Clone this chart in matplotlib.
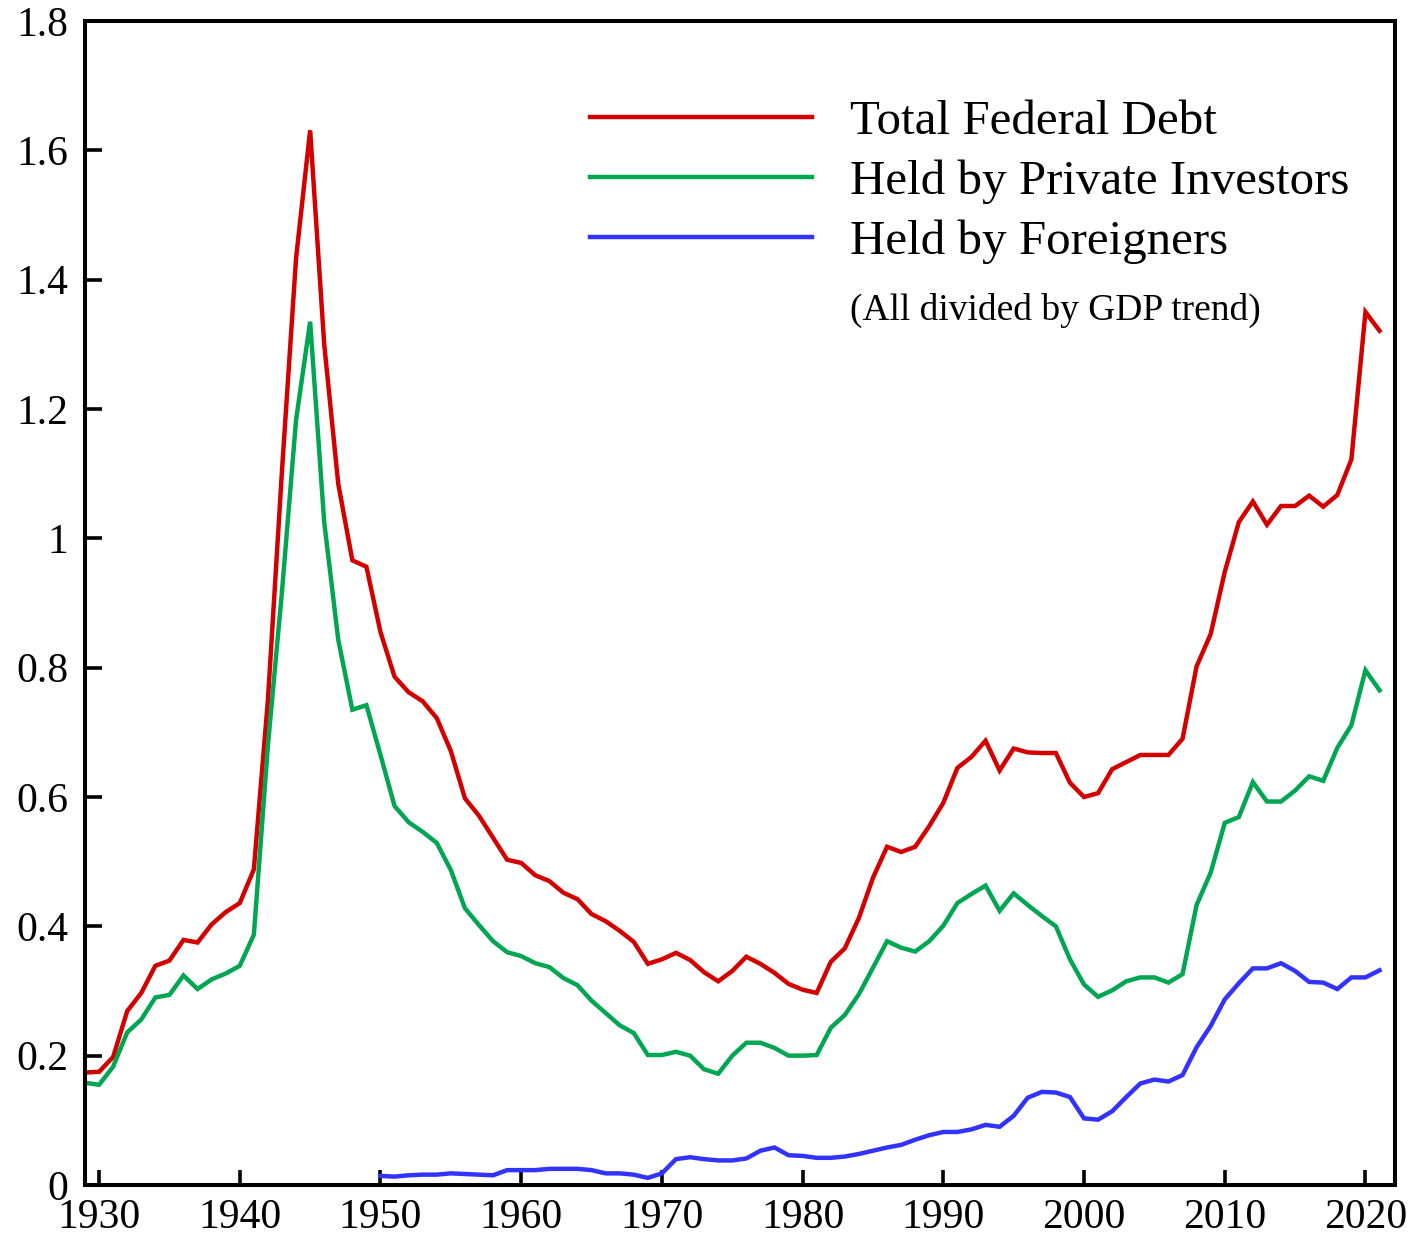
import matplotlib
matplotlib.use("Agg")
import matplotlib.pyplot as plt
import numpy as np

# ---------------- data ----------------
years = list(range(1929, 2022))

total_debt = [
    0.174, 0.175, 0.198, 0.269, 0.297, 0.339, 0.347, 0.379, 0.375, 0.403,  # 1929-1938
    0.422, 0.436, 0.488, 0.750, 1.105, 1.433, 1.631, 1.300, 1.084, 0.966,  # 1939-1948
    0.956, 0.855, 0.786, 0.762, 0.748, 0.722, 0.671, 0.598, 0.571, 0.537,  # 1949-1958
    0.503, 0.498, 0.479, 0.470, 0.452, 0.442, 0.419, 0.408, 0.393, 0.376,  # 1959-1968
    0.342, 0.349, 0.359, 0.348, 0.329, 0.315, 0.331, 0.353, 0.342, 0.328,  # 1969-1978
    0.311, 0.302, 0.297, 0.345, 0.366, 0.413, 0.475, 0.523, 0.515, 0.523,  # 1979-1988
    0.555, 0.591, 0.645, 0.662, 0.687, 0.641, 0.675, 0.669, 0.668, 0.668,  # 1989-1998
    0.622, 0.600, 0.606, 0.643, 0.654, 0.665, 0.665, 0.665, 0.690, 0.802,  # 1999-2008
    0.852, 0.948, 1.025, 1.057, 1.021, 1.050, 1.050, 1.066, 1.049, 1.067,  # 2009-2018
    1.122, 1.350, 1.321,                                                   # 2019-2021
]

private_investors = [
    0.158, 0.155, 0.183, 0.236, 0.256, 0.290, 0.294, 0.324, 0.303, 0.318,  # 1929-1938
    0.327, 0.339, 0.387, 0.680, 0.918, 1.183, 1.335, 1.025, 0.843, 0.735,  # 1939-1948
    0.742, 0.665, 0.586, 0.561, 0.546, 0.529, 0.487, 0.428, 0.402, 0.377,  # 1949-1958
    0.360, 0.354, 0.343, 0.337, 0.320, 0.309, 0.285, 0.266, 0.247, 0.235,  # 1959-1968
    0.201, 0.201, 0.206, 0.200, 0.179, 0.172, 0.200, 0.220, 0.220, 0.212,  # 1969-1978
    0.200, 0.200, 0.201, 0.243, 0.263, 0.295, 0.336, 0.377, 0.367, 0.361,  # 1979-1988
    0.377, 0.401, 0.436, 0.450, 0.463, 0.424, 0.451, 0.433, 0.416, 0.400,  # 1989-1998
    0.349, 0.310, 0.291, 0.301, 0.315, 0.321, 0.321, 0.313, 0.326, 0.433,  # 1999-2008
    0.483, 0.560, 0.569, 0.623, 0.593, 0.593, 0.610, 0.632, 0.625, 0.676,  # 2009-2018
    0.711, 0.796, 0.765,                                                   # 2019-2021
]

foreign_years = list(range(1950, 2022))
foreigners = [
    0.014, 0.013, 0.015, 0.016, 0.016, 0.018, 0.017, 0.016, 0.015, 0.023,  # 1950-1959
    0.023, 0.023, 0.025, 0.025, 0.025, 0.023, 0.018, 0.018, 0.016, 0.011,  # 1960-1969
    0.018, 0.040, 0.043, 0.040, 0.038, 0.038, 0.041, 0.053, 0.058, 0.046,  # 1970-1979
    0.045, 0.042, 0.042, 0.044, 0.048, 0.053, 0.058, 0.062, 0.070, 0.077,  # 1980-1989
    0.082, 0.082, 0.086, 0.093, 0.090, 0.107, 0.135, 0.144, 0.143, 0.136,  # 1990-1999
    0.103, 0.101, 0.114, 0.136, 0.157, 0.163, 0.160, 0.170, 0.213, 0.246,  # 2000-2009
    0.287, 0.312, 0.335, 0.335, 0.343, 0.331, 0.314, 0.313, 0.303, 0.321,  # 2010-2019
    0.321, 0.332,                                                          # 2020-2021
]

series_labels = ["Total Federal Debt", "Held by Private Investors", "Held by Foreigners"]
note_text = "(All divided by GDP trend)"

x_ticks = [1930, 1940, 1950, 1960, 1970, 1980, 1990, 2000, 2010, 2020]
y_ticks = [0, 0.2, 0.4, 0.6, 0.8, 1.0, 1.2, 1.4, 1.6, 1.8]
y_tick_labels = ["0", "0.2", "0.4", "0.6", "0.8", "1", "1.2", "1.4", "1.6", "1.8"]

# ---------------- style ----------------
plt.rcParams["font.family"] = ["Liberation Serif", "DejaVu Serif"]

RED = "#d40000"
GREEN = "#00a651"
BLUE = "#3333ff"
LW = 3.2

fig = plt.figure(figsize=(14.18, 12.38), dpi=100)
ax = fig.add_axes([85 / 1418, 53 / 1238, (1395 - 85) / 1418, (1185 - 21) / 1238])

ax.plot(years, total_debt, color=RED, lw=LW, label=series_labels[0], solid_joinstyle="miter")
ax.plot(years, private_investors, color=GREEN, lw=LW, label=series_labels[1], solid_joinstyle="miter")
ax.plot(foreign_years, foreigners, color=BLUE, lw=LW, label=series_labels[2], solid_joinstyle="miter")

ax.set_xlim(1929, 2022.1)
ax.set_ylim(0, 1.8)

ax.set_xticks(x_ticks)
ax.set_xticklabels([str(t) for t in x_ticks])
ax.set_yticks(y_ticks)
ax.set_yticklabels(y_tick_labels)

for s in ax.spines.values():
    s.set_linewidth(2.9)
    s.set_color("black")

ax.tick_params(axis="x", direction="in", length=10.5, width=2.6, labelsize=30, pad=10,
               top=False, colors="black")
ax.tick_params(axis="y", direction="in", length=12, width=2.6, labelsize=30, pad=12,
               right=False, colors="black")

leg = ax.legend(loc="upper left", bbox_to_anchor=(0.3855, 0.932), frameon=False,
                fontsize=35.3, handlelength=4.53, handletextpad=0.78, labelspacing=0.31,
                borderpad=0, borderaxespad=0)

ax.text(0.584, 0.7517, note_text, transform=ax.transAxes, fontsize=27,
        ha="left", va="center")

fig.savefig("out.png", dpi=100)
